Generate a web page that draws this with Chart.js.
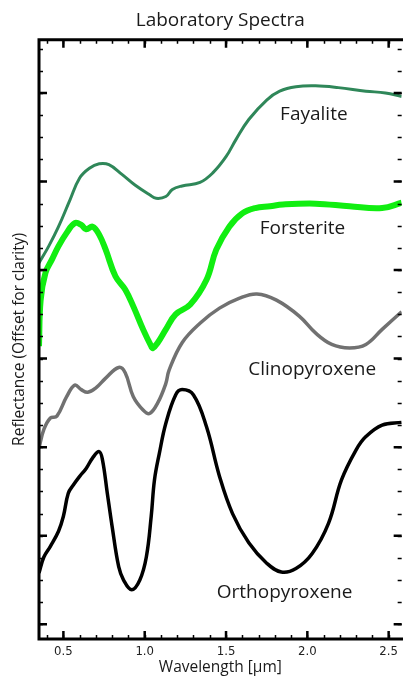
<!DOCTYPE html>
<html>
<head>
<meta charset="utf-8">
<script src="https://cdn.jsdelivr.net/npm/chart.js@4.4.1/dist/chart.umd.min.js"></script>
<style>
  html, body { margin: 0; padding: 0; background: #fff; overflow: hidden; }
  #wrap { width: 403px; height: 678px; position: relative; }
</style>
</head>
<body>
<div id="wrap"><canvas id="spectraChart"></canvas></div>
<script>
// Wavelength (µm) / offset reflectance
const fayaliteWl = [0.35, 0.41, 0.47, 0.54, 0.60, 0.66, 0.72, 0.78, 0.86, 0.94, 1.03, 1.07, 1.13, 1.17, 1.23, 1.34, 1.42, 1.50, 1.56, 1.64, 1.75, 1.83, 1.93, 2.05, 2.19, 2.36, 2.48, 2.58];
const fayaliteR  = [4.08, 4.27, 4.49, 4.79, 5.04, 5.15, 5.20, 5.19, 5.08, 4.96, 4.85, 4.81, 4.83, 4.91, 4.95, 4.99, 5.10, 5.28, 5.47, 5.70, 5.92, 6.02, 6.07, 6.08, 6.06, 6.02, 6.00, 5.96];

const forsteriteWl = [0.35, 0.36, 0.39, 0.43, 0.47, 0.52, 0.57, 0.61, 0.64, 0.68, 0.72, 0.76, 0.82, 0.88, 0.93, 0.99, 1.04, 1.05, 1.08, 1.13, 1.19, 1.28, 1.38, 1.44, 1.52, 1.60, 1.68, 1.77, 1.85, 2.05, 2.26, 2.46, 2.58];
const forsteriteR  = [3.14, 3.66, 3.97, 4.12, 4.27, 4.42, 4.53, 4.51, 4.46, 4.49, 4.40, 4.23, 3.93, 3.78, 3.59, 3.33, 3.14, 3.12, 3.18, 3.33, 3.50, 3.61, 3.89, 4.23, 4.49, 4.64, 4.70, 4.72, 4.74, 4.75, 4.72, 4.70, 4.76];

const clinoWl = [0.35, 0.38, 0.42, 0.46, 0.52, 0.57, 0.61, 0.65, 0.70, 0.76, 0.84, 0.88, 0.93, 0.99, 1.03, 1.08, 1.13, 1.15, 1.23, 1.34, 1.46, 1.58, 1.69, 1.81, 1.95, 2.05, 2.15, 2.26, 2.36, 2.46, 2.58];
const clinoR  = [1.99, 2.20, 2.33, 2.35, 2.57, 2.70, 2.65, 2.62, 2.67, 2.78, 2.90, 2.84, 2.57, 2.42, 2.38, 2.50, 2.72, 2.87, 3.18, 3.40, 3.57, 3.68, 3.73, 3.66, 3.48, 3.29, 3.16, 3.12, 3.16, 3.33, 3.53];

const orthoWl = [0.35, 0.38, 0.42, 0.47, 0.50, 0.53, 0.56, 0.60, 0.64, 0.68, 0.72, 0.74, 0.77, 0.80, 0.84, 0.87, 0.92, 0.97, 1.01, 1.04, 1.06, 1.09, 1.13, 1.19, 1.23, 1.30, 1.38, 1.46, 1.54, 1.64, 1.75, 1.84, 1.93, 2.03, 2.13, 2.21, 2.30, 2.36, 2.46, 2.58];
const orthoR  = [0.58, 0.76, 0.88, 1.05, 1.22, 1.48, 1.57, 1.67, 1.76, 1.88, 1.95, 1.86, 1.48, 1.10, 0.65, 0.50, 0.39, 0.50, 0.76, 1.22, 1.63, 1.93, 2.27, 2.59, 2.65, 2.59, 2.23, 1.67, 1.25, 0.92, 0.69, 0.59, 0.63, 0.80, 1.14, 1.63, 1.97, 2.12, 2.25, 2.28];

const xTickLabels = [0.5, 1.0, 1.5, 2.0, 2.5];
const yMajorTicks = [0, 1, 2, 3, 4, 5, 6];

// curve names, anchored in data units (text baseline)
const curveNames = ["Fayalite", "Forsterite", "Clinopyroxene", "Orthopyroxene"];
const nameWl = [2.04, 1.97, 2.03, 1.86];
const nameR  = [5.70, 4.41, 2.82, 0.30];

function toPoints(xs, ys) {
  return xs.map((x, i) => ({ x: x, y: ys[i] }));
}

// Inward pointing ticks + frame, drawn over the curves
const frameTicks = {
  id: "frameTicks",
  afterDraw(chart) {
    const { ctx, chartArea: a, scales: { x, y } } = chart;
    const major = 8, minor = 4;
    ctx.save();
    ctx.strokeStyle = "#000";

    // minor ticks first
    ctx.lineWidth = 1.5;
    ctx.beginPath();
    for (let v = 0.4; v < 2.58; v += 0.1) {
      const px = Math.round(x.getPixelForValue(v)) + 0.5;
      ctx.moveTo(px, a.bottom); ctx.lineTo(px, a.bottom - minor);
      ctx.moveTo(px, a.top); ctx.lineTo(px, a.top + minor);
    }
    for (let v = -0.25; v < 6.6; v += 0.25) {
      if (v < y.min) continue;
      const py = Math.round(y.getPixelForValue(v)) + 0.5;
      ctx.moveTo(a.left, py); ctx.lineTo(a.left + minor, py);
      ctx.moveTo(a.right, py); ctx.lineTo(a.right - minor, py);
    }
    ctx.stroke();

    // major ticks
    ctx.lineWidth = 2.5;
    ctx.beginPath();
    xTickLabels.forEach(v => {
      const px = x.getPixelForValue(v);
      ctx.moveTo(px, a.bottom); ctx.lineTo(px, a.bottom - major);
      ctx.moveTo(px, a.top); ctx.lineTo(px, a.top + major);
    });
    yMajorTicks.forEach(v => {
      const py = y.getPixelForValue(v);
      ctx.moveTo(a.left, py); ctx.lineTo(a.left + major, py);
      ctx.moveTo(a.right, py); ctx.lineTo(a.right - major, py);
    });
    ctx.stroke();

    // frame (right edge falls off the picture)
    ctx.lineWidth = 3;
    ctx.beginPath();
    ctx.moveTo(a.right + 2, a.top);
    ctx.lineTo(a.left, a.top);
    ctx.lineTo(a.left, a.bottom);
    ctx.lineTo(a.right + 2, a.bottom);
    ctx.stroke();

    // curve names
    ctx.fillStyle = "#1a1a1a";
    ctx.font = "19px 'Open Sans'";
    ctx.textAlign = "center";
    ctx.textBaseline = "alphabetic";
    curveNames.forEach((name, i) => {
      ctx.fillText(name, x.getPixelForValue(nameWl[i]), y.getPixelForValue(nameR[i]));
    });
    ctx.restore();
  }
};

const ctx = document.getElementById("spectraChart").getContext("2d");
new Chart(ctx, {
  type: "line",
  data: {
    datasets: [
      { label: "Fayalite", data: toPoints(fayaliteWl, fayaliteR), borderColor: "#2f8759", borderWidth: 3 },
      { label: "Forsterite", data: toPoints(forsteriteWl, forsteriteR), borderColor: "#11ee11", borderWidth: 6 },
      { label: "Clinopyroxene", data: toPoints(clinoWl, clinoR), borderColor: "#717171", borderWidth: 3.5 },
      { label: "Orthopyroxene", data: toPoints(orthoWl, orthoR), borderColor: "#000000", borderWidth: 3.5 }
    ]
  },
  options: {
    responsive: true,
    maintainAspectRatio: false,
    animation: false,
    devicePixelRatio: 1,
    layout: { padding: 0 },
    elements: {
      point: { radius: 0 },
      line: { tension: 0.4, cubicInterpolationMode: "default", fill: false }
    },
    plugins: {
      legend: { display: false },
      tooltip: { enabled: false },
      title: {
        display: true,
        text: "Laboratory Spectra",
        fullSize: false,
        color: "#1a1a1a",
        font: { family: "'Open Sans'", size: 19, weight: "normal" },
        padding: { top: 9, bottom: 8 }
      }
    },
    scales: {
      x: {
        type: "linear",
        min: 0.35,
        max: 2.58,
        afterBuildTicks: s => { s.ticks = xTickLabels.map(v => ({ value: v })); },
        afterFit: s => { s.height = 39; },
        grid: { display: false, drawTicks: false },
        border: { display: false },
        ticks: {
          callback: v => v.toFixed(1),
          color: "#222",
          font: { family: "'Liberation Sans Narrow', 'DejaVu Sans Condensed'", size: 13 },
          padding: 5,
          maxRotation: 0,
          autoSkip: false
        },
        title: {
          display: true,
          text: "Wavelength [µm]",
          color: "#1a1a1a",
          font: { family: "'Open Sans'", size: 15.5 },
          padding: { top: 0, bottom: 1 }
        }
      },
      y: {
        type: "linear",
        min: -0.166,
        max: 6.6,
        afterFit: s => { s.width = 39; },
        grid: { display: false, drawTicks: false },
        border: { display: false },
        ticks: { display: false },
        title: {
          display: true,
          text: "Reflectance (Offset for clarity)",
          color: "#1a1a1a",
          font: { family: "'Open Sans'", size: 15.5 },
          padding: { top: 10, bottom: 0 }
        }
      }
    }
  },
  plugins: [frameTicks]
});
</script>
</body>
</html>
